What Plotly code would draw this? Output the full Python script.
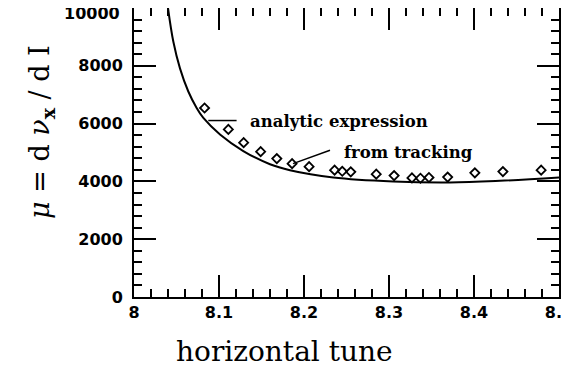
import plotly.graph_objects as go

# tracking data (diamonds)
track_x = [8.083, 8.111, 8.129, 8.149, 8.168, 8.186, 8.206, 8.236, 8.245, 8.255,
           8.285, 8.306, 8.327, 8.337, 8.347, 8.369, 8.401, 8.434, 8.479]
track_y = [6540, 5800, 5340, 5030, 4790, 4615, 4510, 4390, 4350, 4330,
           4250, 4200, 4120, 4110, 4135, 4150, 4295, 4340, 4390]

# analytic expression (solid curve)
curve_x = [8.040, 8.0463, 8.0541, 8.0639, 8.0737, 8.0816, 8.1012, 8.1286,
           8.160, 8.1835, 8.2345, 8.305, 8.3718, 8.4306, 8.500]
curve_y = [10000, 8830, 7910, 7110, 6540, 6195, 5625, 5051,
           4594, 4388, 4134, 3996, 3962, 4020, 4134]

x_ticks = [8, 8.1, 8.2, 8.3, 8.4, 8.5]
x_labels = ["8", "8.1", "8.2", "8.3", "8.4", "8.5"]
y_ticks = [0, 2000, 4000, 6000, 8000, 10000]
y_labels = ["0", "2000", "4000", "6000", "8000", "10000"]

fig = go.Figure()
fig.add_trace(go.Scatter(x=curve_x, y=curve_y, mode="lines",
                         line=dict(color="black", width=2, shape="spline", smoothing=1),
                         showlegend=False))
fig.add_trace(go.Scatter(x=track_x, y=track_y, mode="markers",
                         marker=dict(symbol="diamond-open", size=7, color="black",
                                     line=dict(width=1.8, color="black")),
                         showlegend=False))

tickfont = dict(family="DejaVu Sans", size=16, color="black", weight="bold")
fig.update_xaxes(range=[x_ticks[0], x_ticks[-1]], tickvals=x_ticks, ticktext=x_labels,
                 ticks="inside", ticklen=22, tickwidth=2, tickcolor="black",
                 showline=True, linecolor="black", linewidth=2, mirror="allticks",
                 layer="above traces", showgrid=False, zeroline=False, tickfont=tickfont,
                 minor=dict(dtick=0.02, ticks="inside", ticklen=8, tickwidth=2,
                            tickcolor="black", showgrid=False))
# the top label (10000) is drawn as an annotation so it is not cut at the page edge
fig.update_yaxes(range=[y_ticks[0], y_ticks[-1]], tickvals=y_ticks,
                 ticktext=y_labels[:-1] + [""],
                 ticks="inside", ticklen=22, tickwidth=2, tickcolor="black",
                 showline=True, linecolor="black", linewidth=2, mirror="allticks",
                 layer="above traces", showgrid=False, zeroline=False, tickfont=tickfont,
                 ticklabelstandoff=6,
                 minor=dict(dtick=400, ticks="inside", ticklen=8, tickwidth=2,
                            tickcolor="black", showgrid=False))
fig.add_annotation(xref="paper", yref="paper", x=0, y=1, text=y_labels[-1],
                   showarrow=False, xanchor="right", yanchor="middle",
                   xshift=-12, yshift=-5, font=tickfont)

labfont = dict(family="DejaVu Serif", size=16.5, color="black", weight="bold")
fig.add_annotation(x=8.1341, y=6058, text="analytic expression", showarrow=False,
                   xanchor="left", yanchor="middle", font=labfont)
fig.add_annotation(x=8.2444, y=4993, text="from tracking", showarrow=False,
                   xanchor="left", yanchor="middle", font=labfont)
fig.add_shape(type="line", x0=8.0874, y0=6106, x1=8.1207, y1=6106,
              line=dict(color="black", width=1.5))
fig.add_shape(type="line", x0=8.2306, y0=5075, x1=8.1871, y1=4615,
              line=dict(color="black", width=1.5))

fig.add_annotation(xref="paper", yref="paper", x=0.353, y=-0.190, text="horizontal tune",
                   showarrow=False, xanchor="center", yanchor="middle",
                   font=dict(family="DejaVu Serif", size=28, color="black"))
fig.add_annotation(xref="paper", yref="paper", x=-0.2165, y=0.571, textangle=-90,
                   text="<i>μ</i> = d <i>ν</i><sub><b>x</b></sub> / d I",
                   showarrow=False, xanchor="center", yanchor="middle",
                   font=dict(family="DejaVu Serif", size=27, color="black"))

# the page body adds an 8px offset; margins are shifted to compensate
fig.update_layout(width=569, height=365,
                  margin=dict(l=126, r=18, t=0, b=76, autoexpand=False),
                  plot_bgcolor="white", paper_bgcolor="white", showlegend=False)
fig.write_html("out.html", config={"displayModeBar": False})
